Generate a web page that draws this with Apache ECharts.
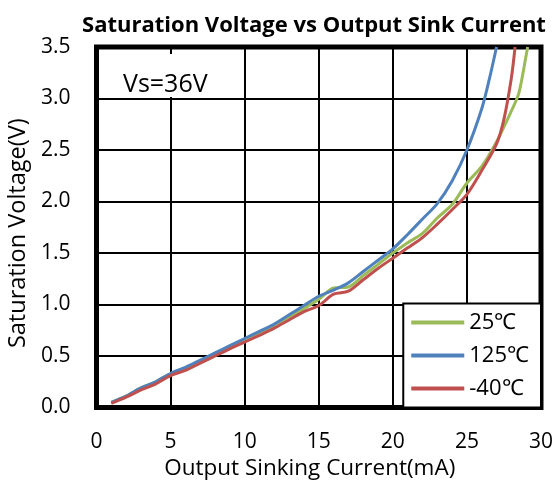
<!DOCTYPE html>
<html>
<head>
<meta charset="utf-8">
<script src="https://cdn.jsdelivr.net/npm/echarts@6/dist/echarts.min.js"></script>
<style>
html,body{margin:0;padding:0;background:#fff;}
#chart{width:555px;height:487px;}
</style>
</head>
<body>
<div id="chart"></div>
<script>
const titleText = 'Saturation Voltage vs Output Sink Current';
const xAxisName = 'Output Sinking Current(mA)';
const yAxisName = 'Saturation Voltage(V)';
const annotation = 'Vs=36V';
const seriesNames = ['25℃', '125℃', '-40℃'];

const current25 = [1,2,3,4,5,6,7,8,9,10,11,12,13,14,15,16,17,18,19,20,21,22,23,24,25,26,27,28,28.5,29,29.1];
const volt25 =    [0.05,0.11,0.19,0.25,0.33,0.38,0.45,0.52,0.59,0.66,0.73,0.80,0.88,0.96,1.05,1.16,1.17,1.28,1.39,1.50,1.60,1.69,1.84,1.97,2.18,2.34,2.58,2.88,3.05,3.42,3.5];

const current125 = [1,2,3,4,5,6,7,8,9,10,11,12,13,14,15,16,17,18,19,20,21,22,23,24,25,26,26.5,27];
const volt125 =    [0.05,0.11,0.19,0.25,0.33,0.39,0.46,0.53,0.60,0.67,0.74,0.81,0.90,0.99,1.08,1.14,1.21,1.32,1.43,1.54,1.68,1.83,1.98,2.2,2.5,2.9,3.18,3.5];

const currentM40 = [1,2,3,4,5,6,7,8,9,10,11,12,13,14,15,16,17,18,19,20,21,22,23,24,25,26,27,27.5,28,28.25];
const voltM40 =    [0.04,0.10,0.17,0.23,0.31,0.36,0.43,0.50,0.57,0.635,0.70,0.77,0.85,0.93,0.99,1.10,1.13,1.24,1.35,1.45,1.55,1.65,1.78,1.92,2.07,2.3,2.56,2.8,3.2,3.5];

const colors = ['#9BBB59', '#4F81BD', '#C0504D'];
const FONT = '"Open Sans", sans-serif';

function pairs(xs, ys) { return xs.map((x, i) => [x, ys[i]]); }

const chart = echarts.init(document.getElementById('chart'), null, {renderer: 'canvas'});
const mkSeries = (name, xs, ys, color) => ({
  name, type: 'line', data: pairs(xs, ys), smooth: 0.3, showSymbol: false,
  lineStyle: {color, width: 3}, itemStyle: {color}, z: 3
});

chart.setOption({
  animation: false,
  backgroundColor: '#fff',
  textStyle: {fontFamily: FONT},
  title: {
    text: titleText, left: 309, top: 10, textAlign: 'center',
    textStyle: {fontFamily: FONT, fontWeight: 'bold', fontSize: 22, color: '#000'}
  },
  grid: {left: 96.5, right: 14, top: 47, bottom: 79.5, show: true, borderColor: '#000', borderWidth: 5,
    backgroundColor: 'transparent', containLabel: false, outerBoundsMode: 'none'},
  xAxis: {
    type: 'value', min: 0, max: 30, interval: 5,
    name: xAxisName, nameLocation: 'middle', nameGap: 42,
    nameTextStyle: {fontFamily: FONT, fontSize: 22.5, color: '#000', padding: [0, 18, 0, 0]},
    axisLine: {show: false}, axisTick: {show: false},
    axisLabel: {fontFamily: FONT, fontSize: 21, color: '#000', margin: 24},
    splitLine: {show: true, lineStyle: {color: '#000', width: 2}}
  },
  yAxis: {
    type: 'value', min: 0, max: 3.5, interval: 0.5,
    name: yAxisName, nameLocation: 'middle', nameGap: 62,
    nameTextStyle: {fontFamily: FONT, fontSize: 23.5, color: '#000', padding: [0, 12, 0, 0]},
    axisLine: {show: false}, axisTick: {show: false},
    axisLabel: {fontFamily: FONT, fontSize: 21, color: '#000', margin: 26, formatter: v => v.toFixed(1)},
    splitLine: {show: true, lineStyle: {color: '#000', width: 2}}
  },
  legend: {
    orient: 'vertical', right: 14, bottom: 79.5,
    backgroundColor: '#fff', borderColor: '#000', borderWidth: 2,
    padding: [0, 12, 0, 8], itemGap: -5, itemWidth: 53, itemHeight: 4,
    icon: 'rect',
    textStyle: {fontFamily: FONT, fontSize: 22, lineHeight: 22, color: '#000', padding: [16, 0, 0, 0]},
    data: seriesNames
  },
  graphic: [{
    type: 'text', left: 105, top: 54, z: 2,
    style: {text: annotation, fontFamily: FONT, fontSize: 25, fill: '#000',
      backgroundColor: '#fff', padding: [18, 20, 0, 18]}
  }],
  series: [
    mkSeries(seriesNames[0], current25, volt25, colors[0]),
    mkSeries(seriesNames[1], current125, volt125, colors[1]),
    mkSeries(seriesNames[2], currentM40, voltM40, colors[2])
  ]
});
</script>
</body>
</html>
